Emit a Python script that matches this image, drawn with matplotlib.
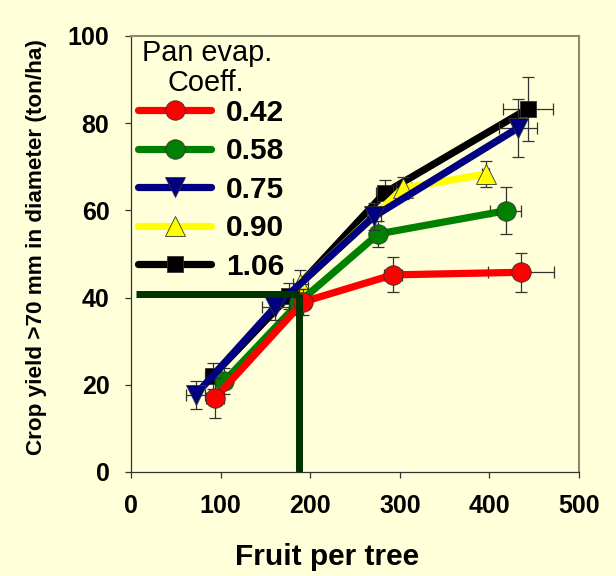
import matplotlib
matplotlib.use("Agg")
import matplotlib.pyplot as plt

# Pan evaporation coefficient series: fruit per tree vs crop yield (>70 mm)
coeffs = ["0.42", "0.58", "0.75", "0.90", "1.06"]

red_x = [94, 192, 292, 435]
red_y = [17.0, 39.0, 45.2, 45.8]
red_xerr = [10, 8, 10, 37]
red_yerr = [4.6, 3.0, 4.0, 4.5]

green_x = [104, 188, 276, 418]
green_y = [20.8, 39.0, 54.6, 59.9]
green_xerr = [8, 8, 8, 17]
green_yerr = [3.0, 3.0, 3.0, 5.4]

blue_x = [72, 161, 271, 432]
blue_y = [17.7, 37.9, 58.6, 78.9]
blue_xerr = [11, 15, 8, 21]
blue_yerr = [3.2, 3.0, 3.0, 6.7]

yellow_x = [189, 304, 396]
yellow_y = [43.1, 65.1, 68.3]
yellow_xerr = [8, 8, 4]
yellow_yerr = [3.3, 2.5, 3.0]

black_x = [91, 176, 283, 443]
black_y = [22.0, 40.3, 64.0, 83.3]
black_xerr = [8, 8, 10, 28]
black_yerr = [3.0, 3.0, 3.0, 7.3]

# reference point
ref_x = 188
ref_y = 40.8

x_ticks = [0, 100, 200, 300, 400, 500]
y_ticks = [0, 20, 40, 60, 80, 100]

bg = "#FFFFD9"
plt.rcParams["font.family"] = ["Liberation Sans", "DejaVu Sans"]

fig = plt.figure(figsize=(6.16, 5.76), dpi=100, facecolor=bg)
ax = fig.add_axes([0.2127, 0.1806, 0.7273, 0.757])
ax.set_facecolor(bg)

series = [
    (red_x, red_y, red_xerr, red_yerr, "#FF0000", "o", 14, 5),
    (green_x, green_y, green_xerr, green_yerr, "#008000", "o", 14, 4),
    (blue_x, blue_y, blue_xerr, blue_yerr, "#000080", "v", 14, 4.5),
    (yellow_x, yellow_y, yellow_xerr, yellow_yerr, "#FFFF00", "^", 14, 3),
    (black_x, black_y, black_xerr, black_yerr, "#000000", "s", 12, 2),
]

handles = []
for (xs, ys, xe, ye, col, mk, ms, z), lab in zip(series, coeffs):
    ax.errorbar(xs, ys, xerr=xe, yerr=ye, fmt="none", ecolor="#333333",
                elinewidth=0.9, capsize=4, capthick=0.9, zorder=z - 0.5)
    ln, = ax.plot(xs, ys, color=col, lw=5.2, marker=mk, markersize=ms,
                  markerfacecolor=col, markeredgecolor="#333333",
                  markeredgewidth=0.6, solid_capstyle="round", zorder=z,
                  label=lab)
    handles.append(ln)

# guide lines to the reference point
ax.plot([5, ref_x], [ref_y, ref_y], color="#003300", lw=5,
        solid_capstyle="butt", zorder=10)
ax.plot([ref_x, ref_x], [0, ref_y], color="#003300", lw=5,
        solid_capstyle="butt", zorder=10)

ax.set_xlim(0, 500)
ax.set_ylim(0, 100)
ax.set_xticks(x_ticks)
ax.set_yticks(y_ticks)
ax.tick_params(direction="out", length=4, width=0.9, color="#333333",
               labelsize=18, pad=11.5)
for t in ax.get_xticklabels() + ax.get_yticklabels():
    t.set_fontweight("bold")

for s in ["left", "bottom"]:
    ax.spines[s].set_color("#333333")
    ax.spines[s].set_linewidth(0.9)
for s in ["top", "right"]:
    ax.spines[s].set_color("#8A8A70")
    ax.spines[s].set_linewidth(1.5)

ax.set_xlabel("Fruit per tree", fontsize=21.5, fontweight="bold")
ax.xaxis.set_label_coords(0.4375, -0.162)
ax.set_ylabel("Crop yield >70 mm in diameter (ton/ha)", fontsize=16.2,
              fontweight="bold")
ax.yaxis.set_label_coords(-0.188, 0.515)

# legend heading
ax.text(0.024, 0.993, "Pan evap.", transform=ax.transAxes, fontsize=20.8,
        ha="left", va="top", zorder=12)
ax.text(0.081, 0.925, "Coeff.", transform=ax.transAxes, fontsize=20.8,
        ha="left", va="top", zorder=12)

leg = ax.legend(handles=handles, loc="upper left",
                bbox_to_anchor=(0.0156, 0.8555), frameon=False,
                prop={"size": 21.5, "weight": "bold"}, handlelength=2.45,
                handletextpad=0.5, labelspacing=0.35, borderaxespad=0,
                borderpad=0)

fig.savefig("out.png", dpi=100, facecolor=bg)
